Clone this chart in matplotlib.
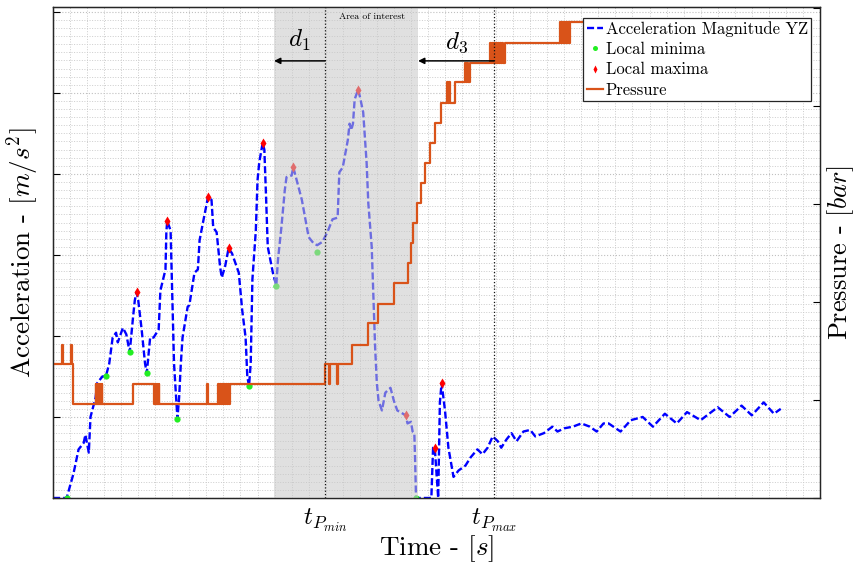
import matplotlib
matplotlib.use('Agg')
import numpy as np
from matplotlib import pyplot as plt
from matplotlib.ticker import MultipleLocator

plt.rcParams['font.family'] = 'cmr10'
plt.rcParams['mathtext.fontset'] = 'cm'
plt.rcParams['axes.unicode_minus'] = False

# acceleration magnitude YZ [m/s^2] vs time [s]
acc_t = [0.00, 0.08, 0.12, 0.15, 0.18, 0.19, 0.21, 0.22, 0.25, 0.26, 0.29, 0.31,
         0.33, 0.35, 0.37, 0.38, 0.41, 0.43, 0.45, 0.47, 0.48, 0.49, 0.50, 0.52,
         0.54, 0.55, 0.57, 0.59, 0.62, 0.63, 0.66, 0.665, 0.67, 0.69, 0.70, 0.71,
         0.73, 0.74, 0.75, 0.76, 0.79, 0.80, 0.83, 0.85, 0.86, 0.88, 0.91, 0.93,
         0.94, 0.96, 0.98, 0.99, 1.01, 1.03, 1.05, 1.07, 1.09, 1.11, 1.13, 1.14,
         1.15, 1.16, 1.17, 1.19, 1.20, 1.21, 1.23, 1.24, 1.25, 1.26, 1.29, 1.31,
         1.32, 1.34, 1.36, 1.37, 1.40, 1.41, 1.43, 1.46, 1.49, 1.50, 1.53, 1.55,
         1.58, 1.61, 1.64, 1.67, 1.68, 1.70, 1.73, 1.74, 1.75, 1.76, 1.77, 1.79,
         1.80, 1.82, 1.84, 1.85, 1.87, 1.88, 1.89, 1.90, 1.91, 1.93, 1.95, 1.98,
         2.00, 2.02, 2.07, 2.08, 2.10, 2.11, 2.12, 2.125, 2.13, 2.22, 2.23, 2.24,
         2.26, 2.27, 2.28, 2.30, 2.32, 2.35, 2.38, 2.42, 2.45, 2.49, 2.52, 2.55,
         2.58, 2.61, 2.63, 2.66, 2.69, 2.72, 2.76, 2.80, 2.83, 2.88, 2.93, 2.96,
         3.00, 3.05, 3.10, 3.15, 3.19, 3.23, 3.26, 3.33, 3.39, 3.46, 3.52, 3.59,
         3.66, 3.72, 3.80, 3.90, 3.97, 4.04, 4.10, 4.17, 4.23, 4.27]
acc_val = [0.0, 0.0, 1.5, 3.0, 3.4, 3.9, 2.8, 5.0, 6.2, 7.1, 7.5, 7.5,
           8.3, 9.9, 10.2, 9.6, 10.5, 10.1, 9.0, 11.2, 12.2, 12.7, 12.2, 10.4,
           8.3, 7.7, 9.9, 9.9, 10.4, 12.8, 14.1, 16.4, 17.1, 16.5, 12.4, 8.3,
           4.9, 6.2, 8.3, 9.9, 11.8, 11.9, 13.9, 14.1, 15.9, 17.0, 18.6, 18.4,
           16.7, 16.4, 14.3, 13.6, 14.3, 15.4, 15.1, 14.5, 13.9, 11.6, 9.9, 7.5,
           6.9, 8.3, 13.5, 16.5, 19.6, 20.7, 21.9, 21.5, 18.6, 15.5, 13.9, 13.1,
           14.7, 16.7, 19.0, 19.8, 19.9, 20.4, 19.6, 18.4, 16.7, 16.1, 15.7, 15.6,
           15.8, 16.4, 17.2, 17.3, 20.1, 20.4, 22.1, 23.1, 22.7, 23.1, 24.6, 25.2,
           24.8, 23.8, 20.7, 18.2, 15.5, 12.4, 9.3, 7.1, 6.0, 5.4, 6.5, 6.8,
           6.0, 5.4, 5.1, 4.6, 4.7, 4.1, 4.0, 2.2, 0.0, 0.0, 3.1, 3.1,
           0.0, 5.9, 7.1, 5.4, 3.1, 1.3, 1.7, 2.0, 2.5, 3.0, 2.7, 3.1,
           3.8, 3.5, 3.1, 3.6, 4.0, 3.5, 4.1, 4.2, 3.8, 4.0, 4.4, 4.1,
           4.3, 4.4, 4.6, 4.4, 4.1, 4.6, 4.6, 4.1, 4.8, 5.0, 4.4, 5.2,
           4.6, 5.3, 4.8, 5.6, 5.0, 5.7, 5.1, 5.9, 5.2, 5.5]

min_t = [0.08, 0.31, 0.45, 0.55, 0.73, 1.15, 1.31, 1.55, 2.13]
min_val = [0.0, 7.5, 9.0, 7.7, 4.9, 6.9, 13.1, 15.2, 0.0]
max_t = [0.49, 0.67, 0.91, 1.03, 1.23, 1.41, 1.79, 2.07, 2.24, 2.28]
max_val = [12.7, 17.1, 18.6, 15.4, 21.9, 20.4, 25.2, 5.1, 3.1, 7.1]

# pressure [bar], stepwise (held until next sample)
pres_t = [0.000, 0.050, 0.056, 0.105, 0.111, 0.120,
          0.250, 0.253, 0.262, 0.265, 0.274, 0.277, 0.286, 0.289,
          0.470,
          0.590, 0.597, 0.600, 0.609, 0.612, 0.621, 0.624,
          0.903, 0.907,
          0.968, 0.972, 0.980, 0.984, 0.992, 0.996, 1.004, 1.008, 1.016, 1.020,
          1.028, 1.032, 1.040,
          1.596, 1.620, 1.628, 1.665, 1.673,
          1.755, 1.849, 1.907, 2.001, 2.083, 2.101, 2.113, 2.136, 2.160, 2.183,
          2.212, 2.242, 2.277,
          2.312, 2.316, 2.324, 2.328, 2.359,
          2.418, 2.422, 2.430, 2.434, 2.447,
          2.565, 2.569, 2.577, 2.581, 2.589, 2.593, 2.601, 2.605, 2.613, 2.617,
          2.625, 2.629, 2.637, 2.641, 2.653,
          2.975, 2.979, 2.987, 2.991, 2.999, 3.003, 3.011, 3.015, 3.023, 3.027,
          3.034,
          4.270]
pres_val = [1.37, 1.56, 1.37, 1.56, 1.37, 0.96,
            1.16, 0.96, 1.16, 0.96, 1.16, 0.96, 1.16, 0.96,
            1.16,
            0.96, 1.16, 0.96, 1.16, 0.96, 1.16, 0.96,
            1.16, 0.96,
            1.16, 0.96, 1.16, 0.96, 1.16, 0.96, 1.16, 0.96, 1.16, 0.96,
            1.16, 0.96, 1.16,
            1.37, 1.16, 1.37, 1.16, 1.37,
            1.56, 1.79, 1.98, 2.19, 2.40, 2.60, 2.81, 3.01, 3.21, 3.42,
            3.62, 3.83, 4.03,
            4.24, 4.03, 4.24, 4.03, 4.24,
            4.44, 4.24, 4.44, 4.24, 4.44,
            4.64, 4.44, 4.64, 4.44, 4.64, 4.44, 4.64, 4.44, 4.64, 4.44,
            4.64, 4.44, 4.64, 4.44, 4.64,
            4.86, 4.64, 4.86, 4.64, 4.86, 4.64, 4.86, 4.64, 4.86, 4.64,
            4.86,
            4.86]

t_pmin = 1.596
t_pmax = 2.588
area_start = 1.297
area_end = 2.142

fig = plt.figure(figsize=(8.55, 5.72), dpi=100)
ax1 = fig.add_axes([0.062, 0.1294, 0.897, 0.8584])
ax2 = ax1.twinx()

ax1.plot(acc_t, acc_val, color='#0000ff', ls=(0, (3, 1.3)), lw=1.7,
         label='Acceleration Magnitude YZ', zorder=2)
ax1.plot(min_t, min_val, 'o', color='#22ee22', ms=4.5, mec='none',
         label='Local minima', zorder=3)
ax1.plot(max_t, max_val, 'd', color='#ff0000', ms=5, mec='none',
         label='Local maxima', zorder=3)
ax1.axvspan(area_start, area_end, color='#c8c8c8', alpha=0.55, lw=0, zorder=5)

ax2.plot(pres_t, pres_val, color='#d95319', lw=1.6, drawstyle='steps-post',
         label='Pressure', zorder=2)

ax1.set_xlim(0, 4.5)
ax1.set_ylim(0, 30.3)
ax2.set_ylim(0, 5.01)

ax1.set_xticks([t_pmin, t_pmax])
ax1.set_xticklabels([r'$t_{P_{min}}$', r'$t_{P_{max}}$'], fontsize=18)
ax1.xaxis.set_minor_locator(MultipleLocator(0.1))
ax1.set_yticks(np.arange(0, 31, 5))
ax1.yaxis.set_minor_locator(MultipleLocator(0.5))
ax1.set_yticklabels([])
ax2.set_yticks(np.arange(0, 6, 1))
ax2.set_yticklabels([])

ax1.tick_params(axis='x', which='both', length=0, pad=6)
ax1.tick_params(axis='y', which='major', direction='in', length=5, width=0.8)
ax1.tick_params(axis='y', which='minor', length=0)
ax2.tick_params(axis='y', direction='in', length=5, width=0.8)

ax1.set_axisbelow(True)
ax1.grid(which='minor', color='#cccccc', ls=':', lw=0.7)
ax1.grid(which='major', axis='y', color='#c0c0c0', ls=':', lw=0.8)

for ax in (ax1, ax2):
    for s in ax.spines.values():
        s.set_color('#262626')
        s.set_linewidth(0.9)
ax1.spines['left'].set_color('black')
ax1.spines['top'].set_color('black')

# markers for the pressure instants
for tv in (t_pmin, t_pmax):
    ax2.axvline(tv, color='#111111', ls=':', lw=0.9, zorder=6)

ax2.annotate('', xy=(area_start, 4.46), xytext=(t_pmin, 4.46),
             arrowprops=dict(arrowstyle='-|>', color='black', lw=1.1,
                             mutation_scale=9, shrinkA=0, shrinkB=0))
ax2.annotate('', xy=(area_end, 4.46), xytext=(t_pmax, 4.46),
             arrowprops=dict(arrowstyle='-|>', color='black', lw=1.1,
                             mutation_scale=9, shrinkA=0, shrinkB=0))
ax2.text((area_start + t_pmin) / 2, 4.67, r'$d_1$', fontsize=18,
         ha='center', va='center')
ax2.text((area_end + t_pmax) / 2, 4.65, r'$d_3$', fontsize=18,
         ha='center', va='center')
ax2.text((t_pmin + area_end) / 2, 4.91, 'Area of interest', fontsize=7,
         ha='center', va='center')

ax1.set_xlabel(r'Time - $[s]$', fontsize=19.5, labelpad=0)
ax1.set_ylabel(r'Acceleration - $[m/s^2]$', fontsize=19.5, labelpad=5)
ax2.set_ylabel(r'Pressure - $[bar]$', fontsize=19, labelpad=0)

h1, l1 = ax1.get_legend_handles_labels()
h2, l2 = ax2.get_legend_handles_labels()
leg = ax2.legend(h1 + h2, l1 + l2, loc='upper right', fontsize=12,
                 bbox_to_anchor=(0.993, 0.985), frameon=True, fancybox=False,
                 framealpha=1, edgecolor='#262626', handlelength=1.0,
                 handletextpad=0.15, labelspacing=0.3, borderpad=0.2,
                 borderaxespad=0.2, markerscale=0.8)
leg.get_frame().set_linewidth(0.9)

fig.savefig('out.png', dpi=100)
